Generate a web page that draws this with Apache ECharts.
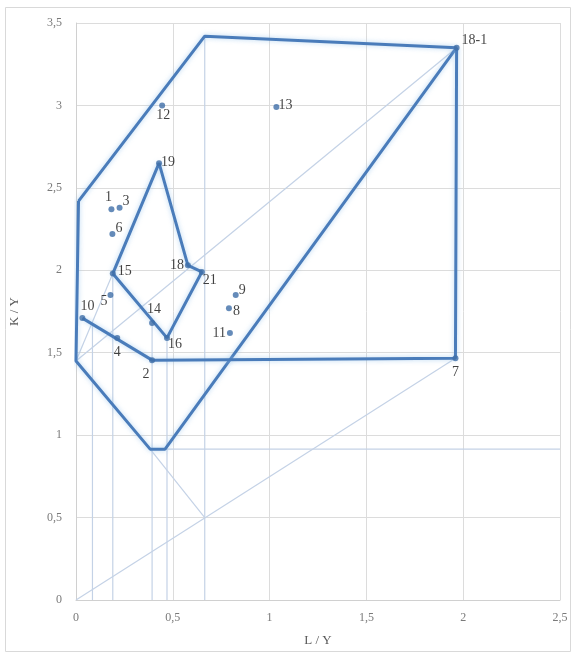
<!DOCTYPE html>
<html>
<head>
<meta charset="utf-8">
<script src="https://cdn.jsdelivr.net/npm/echarts@6/dist/echarts.min.js"></script>
<style>
  html, body { margin: 0; padding: 0; background: #fff; }
  #main { width: 577px; height: 662px; }
</style>
</head>
<body>
<div id="main"></div>
<script>
// 点名称和坐标 (L/Y, K/Y)
const pointNames = ['1', '3', '6', '5', '10', '4', '2', '12', '13', '9', '8', '11', '7', '18-1', '19', '18', '21', '16', '14', '15']
const pointL = [0.183, 0.225, 0.188, 0.178, 0.033, 0.213, 0.393, 0.445, 1.035, 0.825, 0.79, 0.795, 1.96, 1.966, 0.429, 0.578, 0.65, 0.47, 0.393, 0.19]
const pointK = [2.37, 2.38, 2.22, 1.85, 1.71, 1.59, 1.455, 3.0, 2.99, 1.85, 1.77, 1.62, 1.467, 3.35, 2.65, 2.03, 1.99, 1.59, 1.68, 1.98]

// 粗线（轮廓）
const outerHull = [[0.013, 2.42], [0.665, 3.42], [1.966, 3.35], [0.46, 0.915], [0.383, 0.915], [0, 1.45], [0.013, 2.42]]
const lowerBand = [[0.033, 1.71], [0.393, 1.455], [1.96, 1.467], [1.966, 3.35]]
const innerHull = [[0.19, 1.98], [0.429, 2.65], [0.578, 2.03], [0.65, 1.99], [0.47, 1.59], [0.19, 1.98]]

// 细辅助线
const guideLines = [
  [[0, 0], [1.96, 1.467]],
  [[0, 1.45], [1.966, 3.35]],
  [[0.383, 0.915], [0.665, 0.5]],
  [[0.46, 0.915], [2.5, 0.915]],
  [[0, 1.45], [0.19, 1.98]],
  [[0.085, 0], [0.085, 1.68]],
  [[0.19, 0], [0.19, 1.98]],
  [[0.393, 0], [0.393, 1.68]],
  [[0.47, 0], [0.47, 1.59]],
  [[0.665, 0], [0.665, 3.42]]
]

// 标签位置
const labelPos = {
  '1': ['top', [-3, 0]], '3': ['right', [-2, -6]], '6': ['right', [-2, -6]], '5': ['left', [2, 6]],
  '10': ['top', [5, 0]], '4': ['bottom', [0, 2]], '2': ['bottom', [-6, 2]], '12': ['bottom', [1, -2]],
  '13': ['right', [-3, -2]], '9': ['right', [-2, -5]], '8': ['right', [-1, 3]], '11': ['left', [1, 0]],
  '7': ['bottom', [0, 2]], '18-1': ['right', [0, -7]], '19': ['right', [-3, -1]], '18': ['left', [1, 0]],
  '21': ['right', [-4, 8]], '16': ['right', [-4, 6]], '14': ['top', [2, -2]], '15': ['right', [0, -2]]
}

const thick = '#4a7cba'
const thin = '#c4d2e6'
const fmt = v => String(v).replace('.', ',')

const series = []
guideLines.forEach(seg => {
  series.push({ type: 'line', data: seg, symbol: 'none', silent: true, z: 1,
    lineStyle: { color: thin, width: 1.2 } })
})
;[outerHull, lowerBand, innerHull].forEach(poly => {
  series.push({ type: 'line', data: poly, symbol: 'none', silent: true, z: 3,
    lineStyle: { color: thick, width: 3, shadowColor: 'rgba(150,195,235,0.7)', shadowBlur: 5 } })
})
series.push({
  type: 'scatter',
  z: 5,
  symbolSize: 6,
  itemStyle: { color: '#3e6ea8' },
  data: pointNames.map((n, i) => ({
    value: [pointL[i], pointK[i]],
    name: n,
    label: { position: labelPos[n][0], offset: labelPos[n][1] }
  })),
  label: {
    show: true,
    formatter: p => p.name,
    color: '#111',
    fontFamily: 'Liberation Serif',
    fontSize: 14,
    distance: 2
  }
})

const chart = echarts.init(document.getElementById('main'))
chart.setOption({
  animation: false,
  backgroundColor: '#fff',
  graphic: [{
    type: 'rect', shape: { x: 5.5, y: 7.5, width: 565, height: 644 },
    style: { fill: 'none', stroke: '#d9d9d9', lineWidth: 1 }, z: -1
  }],
  grid: { left: 73.5, right: 17, top: 23, bottom: 62 },
  xAxis: {
    type: 'value', min: 0, max: 2.5, interval: 0.5,
    name: 'L / Y', nameLocation: 'middle', nameGap: 34,
    nameTextStyle: { color: '#595959', fontFamily: 'Liberation Serif', fontSize: 13 },
    axisLine: { show: true, lineStyle: { color: '#d0d0d0' } },
    axisTick: { show: false },
    axisLabel: { color: '#7a7a7a', fontFamily: 'Liberation Serif', fontSize: 12, margin: 12, formatter: fmt },
    splitLine: { show: true, lineStyle: { color: '#dcdcdc' } }
  },
  yAxis: {
    type: 'value', min: 0, max: 3.5, interval: 0.5,
    name: 'K / Y', nameLocation: 'middle', nameGap: 55,
    nameTextStyle: { color: '#595959', fontFamily: 'Liberation Serif', fontSize: 13 },
    axisLine: { show: true, lineStyle: { color: '#d0d0d0' } },
    axisTick: { show: false },
    axisLabel: { color: '#7a7a7a', fontFamily: 'Liberation Serif', fontSize: 12, margin: 14, formatter: fmt },
    splitLine: { show: true, lineStyle: { color: '#dcdcdc' } }
  },
  series: series
})
</script>
</body>
</html>
